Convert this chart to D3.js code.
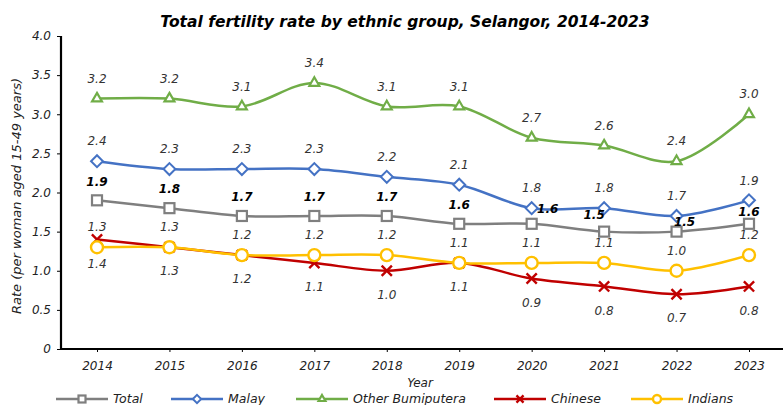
<!DOCTYPE html>
<html>
<head>
<meta charset="utf-8">
<script src="https://cdn.jsdelivr.net/npm/d3@7"></script>
<style>
  body { margin: 0; background: #fff; }
  svg text { font-family: "DejaVu Sans", sans-serif; font-style: italic; }
</style>
</head>
<body>
<svg width="783" height="405"></svg>
<script>
const years = ['2014', '2015', '2016', '2017', '2018', '2019', '2020', '2021', '2022', '2023'];
const yTicks = [0, 0.5, 1.0, 1.5, 2.0, 2.5, 3.0, 3.5, 4.0];

const total = [1.9, 1.8, 1.7, 1.7, 1.7, 1.6, 1.6, 1.5, 1.5, 1.6];
const malay = [2.4, 2.3, 2.3, 2.3, 2.2, 2.1, 1.8, 1.8, 1.7, 1.9];
const otherBumi = [3.2, 3.2, 3.1, 3.4, 3.1, 3.1, 2.7, 2.6, 2.4, 3.0];
const chinese = [1.4, 1.3, 1.2, 1.1, 1.0, 1.1, 0.9, 0.8, 0.7, 0.8];
const indians = [1.3, 1.3, 1.2, 1.2, 1.2, 1.1, 1.1, 1.1, 1.0, 1.2];

const svg = d3.select('svg');
const WIDTH = +svg.attr('width');

const margin = {left: 61, top: 36, bottom: 349};
const xScale = d3.scalePoint().domain(years).range([97, 749]);
const yScale = d3.scaleLinear().domain([0, 4]).range([margin.bottom, margin.top]);

const series = [
    {name: 'Total', values: total, color: '#7f7f7f', marker: 'square', bold: true, labelDy: -19},
    {name: 'Malay', values: malay, color: '#4472c4', marker: 'diamond', labelDy: -20},
    {name: 'Other Bumiputera', values: otherBumi, color: '#70ad47', marker: 'triangle', labelDy: -20},
    {name: 'Chinese', values: chinese, color: '#c00000', marker: 'cross', labelDy: 24},
    {name: 'Indians', values: indians, color: '#ffc000', marker: 'circle', labelDy: -20}
];

// a few Total labels got nudged sideways in the original
const totalNudge = {'2020': [16, 4], '2021': [-10, 2], '2022': [8, 9], '2023': [0, 7]};

// title
svg.append('text')
    .attr('x', 405).attr('y', 27)
    .attr('text-anchor', 'middle')
    .style('font-size', '15.5px').style('font-weight', 'bold')
    .text('Total fertility rate by ethnic group, Selangor, 2014-2023');

// axes
const yAxis = d3.axisLeft(yScale).tickValues(yTicks).tickSize(4).tickPadding(6)
    .tickFormat(d => d === 0 ? '0' : d3.format('.1f')(d));
svg.append('g')
    .attr('transform', 'translate(' + margin.left + ',0)')
    .call(yAxis)
    .call(g => g.select('.domain').attr('stroke-width', 2.2).attr('d', 'M0,' + margin.top + 'V' + margin.bottom))
    .call(g => g.selectAll('text').style('font-size', '12px').attr('fill', '#222'));

const xAxis = d3.axisBottom(xScale).tickSize(3).tickPadding(9);
svg.append('g')
    .attr('transform', 'translate(0,' + margin.bottom + ')')
    .call(xAxis)
    .call(g => g.select('.domain').attr('stroke-width', 2.2).attr('d', 'M' + margin.left + ',0H' + WIDTH))
    .call(g => g.selectAll('text').style('font-size', '12px').attr('fill', '#222'));

svg.append('text')
    .attr('x', 420).attr('y', 387)
    .attr('text-anchor', 'middle')
    .style('font-size', '12px').attr('fill', '#222')
    .text('Year');

svg.append('text')
    .attr('transform', 'translate(21,' + 196 + ') rotate(-90)')
    .attr('text-anchor', 'middle')
    .style('font-size', '13px').attr('fill', '#222')
    .text('Rate (per woman aged 15-49 years)');

const line = d3.line()
    .x((d, i) => xScale(years[i]))
    .y(d => yScale(d))
    .curve(d3.curveCatmullRom.alpha(0.5));

let drawMarker = (g, type, color, size) => {
    const s = size;
    if (type === 'square') {
        g.append('rect').attr('x', -s / 2).attr('y', -s / 2).attr('width', s).attr('height', s)
            .attr('fill', '#fff').attr('stroke', color).attr('stroke-width', 2.2);
    } else if (type === 'diamond') {
        g.append('path').attr('d', d3.symbol(d3.symbolDiamond2, s * s * 0.9)())
            .attr('fill', '#fff').attr('stroke', color).attr('stroke-width', 2);
    } else if (type === 'triangle') {
        g.append('path').attr('d', d3.symbol(d3.symbolTriangle2, s * s * 0.7)())
            .attr('fill', '#fff').attr('stroke', color).attr('stroke-width', 2.2);
    } else if (type === 'cross') {
        g.append('path').attr('d', d3.symbol(d3.symbolX, s * s * 0.7)())
            .attr('fill', 'none').attr('stroke', color).attr('stroke-width', 2.4);
    } else {
        g.append('circle').attr('r', s / 2)
            .attr('fill', '#fff').attr('stroke', color).attr('stroke-width', 2.4);
    }
};

// draw lines bottom-first so Total ends on top of the others near it
const drawOrder = [series[2], series[1], series[3], series[4], series[0]];
drawOrder.forEach(s => {
    const g = svg.append('g');
    g.append('path')
        .attr('d', line(s.values))
        .attr('fill', 'none')
        .attr('stroke', s.color)
        .attr('stroke-width', 2.5);
    s.values.forEach((v, i) => {
        const m = g.append('g').attr('transform', 'translate(' + xScale(years[i]) + ',' + yScale(v) + ')');
        drawMarker(m, s.marker, s.color, s.marker === 'circle' ? 12 : 10);
    });
});

// data labels
series.forEach(s => {
    s.values.forEach((v, i) => {
        let dx = 0, dy = s.labelDy;
        if (s.name === 'Total' && totalNudge[years[i]]) {
            dx += totalNudge[years[i]][0];
            dy += totalNudge[years[i]][1];
        }
        svg.append('text')
            .attr('x', xScale(years[i]) + dx)
            .attr('y', yScale(v) + dy)
            .attr('dy', '0.35em')
            .attr('text-anchor', 'middle')
            .style('font-size', '12px')
            .style('font-weight', s.bold ? 'bold' : 'normal')
            .attr('fill', s.bold ? '#000' : '#333')
            .text(d3.format('.1f')(v));
    });
});

// legend
const legendX = [56, 171, 296, 494, 631];
series.forEach((s, i) => {
    const g = svg.append('g').attr('transform', 'translate(' + legendX[i] + ',399)');
    g.append('line').attr('x1', 0).attr('x2', 52).attr('stroke', s.color).attr('stroke-width', 2.5);
    drawMarker(g.append('g').attr('transform', 'translate(26,0)'), s.marker, s.color, s.marker === 'circle' ? 8 : 7);
    g.append('text').attr('x', 57).attr('dy', '0.35em')
        .style('font-size', '12.5px').attr('fill', '#222')
        .text(s.name);
});
</script>
</body>
</html>
